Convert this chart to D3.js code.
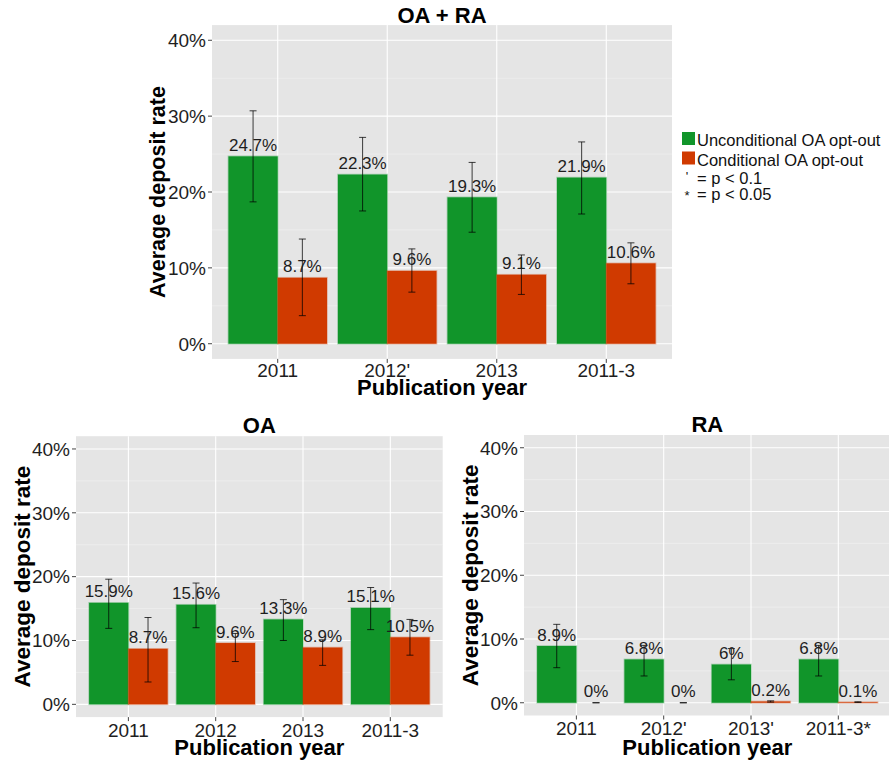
<!DOCTYPE html>
<html>
<head>
<meta charset="utf-8">
<script src="https://cdn.jsdelivr.net/npm/d3@7"></script>
<style>
  html, body { margin: 0; padding: 0; background: #fff; }
  svg { display: block; font-family: "Liberation Sans", Arial, Helvetica, sans-serif; }
</style>
</head>
<body>
<svg id="chart" width="889" height="763"></svg>
<script>
// ---- data (percent) ----
const seriesNames = ["Unconditional OA opt-out", "Conditional OA opt-out"];
const seriesColors = ["#11952a", "#d03a00"];
const yTicks = [0, 10, 20, 30, 40];
const yMinor = [5, 15, 25, 35];

// OA + RA
const catsAll = ["2011", "2012'", "2013", "2011-3"];
const allUncond = [24.7, 22.3, 19.3, 21.9];
const allUncondLow = [18.7, 17.5, 14.7, 17.1];
const allUncondHigh = [30.7, 27.2, 23.9, 26.6];
const allCond = [8.7, 9.6, 9.1, 10.6];
const allCondLow = [3.7, 6.8, 6.5, 7.9];
const allCondHigh = [13.8, 12.5, 11.7, 13.3];

// OA
const catsOA = ["2011", "2012", "2013", "2011-3"];
const oaUncond = [15.9, 15.6, 13.3, 15.1];
const oaUncondLow = [11.9, 12.0, 10.0, 11.7];
const oaUncondHigh = [19.6, 19.0, 16.4, 18.3];
const oaCond = [8.7, 9.6, 8.9, 10.5];
const oaCondLow = [3.5, 6.7, 6.1, 7.7];
const oaCondHigh = [13.6, 11.1, 10.1, 13.3];

// RA
const catsRA = ["2011", "2012'", "2013'", "2011-3*"];
const raUncond = [8.9, 6.8, 6.0, 6.8];
const raUncondLow = [5.5, 4.2, 3.6, 4.2];
const raUncondHigh = [12.3, 9.0, 8.5, 9.0];
const raCond = [0, 0, 0.2, 0.1];
const raCondLow = [0, 0, 0.1, 0.05];
const raCondHigh = [0, 0, 0.3, 0.15];

// significance notes shown under the legend
const noteSymbols = ["'", "*"];
const noteTexts = ["= p < 0.1", "= p < 0.05"];

const svg = d3.select("#chart");
const fmtPct = v => `${+v.toFixed(1)}%`;

function drawPanel(cfg) {
  const g = svg.append("g");
  const x = d3.scalePoint().domain(cfg.cats).range([cfg.left, cfg.right]).padding(0.6);
  const y = d3.scaleLinear().domain([-2, 42]).range([cfg.bottom, cfg.top]);
  const bw = x.step() * 0.45;

  // panel background
  g.append("rect")
    .attr("x", cfg.left).attr("y", cfg.top)
    .attr("width", cfg.right - cfg.left).attr("height", cfg.bottom - cfg.top)
    .attr("fill", "#e5e5e5");

  // minor grid
  g.selectAll(".minor").data(yMinor).join("line")
    .attr("x1", cfg.left).attr("x2", cfg.right)
    .attr("y1", d => y(d)).attr("y2", d => y(d))
    .attr("stroke", "#f2f2f2").attr("stroke-width", 0.6);
  // major grid
  g.selectAll(".majorY").data(yTicks).join("line")
    .attr("x1", cfg.left).attr("x2", cfg.right)
    .attr("y1", d => y(d)).attr("y2", d => y(d))
    .attr("stroke", "#fff").attr("stroke-width", 1.1);
  g.selectAll(".majorX").data(cfg.cats).join("line")
    .attr("x1", d => x(d)).attr("x2", d => x(d))
    .attr("y1", cfg.top).attr("y2", cfg.bottom)
    .attr("stroke", "#fff").attr("stroke-width", 1.1);

  // bars, error bars and value labels
  const series = [
    { vals: cfg.s1, lo: cfg.s1lo, hi: cfg.s1hi, color: seriesColors[0], off: -1 },
    { vals: cfg.s2, lo: cfg.s2lo, hi: cfg.s2hi, color: seriesColors[1], off: 0 }
  ];
  series.forEach(s => {
    const rows = cfg.cats.map((c, i) => ({ c, v: s.vals[i], lo: s.lo[i], hi: s.hi[i] }));
    const bx = d => x(d.c) + s.off * bw;
    g.selectAll(null).data(rows).join("rect")
      .attr("x", bx).attr("width", bw)
      .attr("y", d => y(d.v)).attr("height", d => y(0) - y(d.v))
      .attr("fill", s.color)
      .attr("stroke", s.color).attr("stroke-opacity", 0.3).attr("stroke-width", 1.6);
    const ex = d => bx(d) + bw / 2;
    const eb = g.selectAll(null).data(rows).join("g")
      .attr("stroke", "#000").attr("stroke-opacity", 0.75).attr("stroke-width", 1);
    eb.append("line").attr("x1", ex).attr("x2", ex)
      .attr("y1", d => y(d.lo)).attr("y2", d => y(d.hi));
    eb.append("line").attr("x1", d => ex(d) - 3.5).attr("x2", d => ex(d) + 3.5)
      .attr("y1", d => y(d.lo)).attr("y2", d => y(d.lo));
    eb.append("line").attr("x1", d => ex(d) - 3.5).attr("x2", d => ex(d) + 3.5)
      .attr("y1", d => y(d.hi)).attr("y2", d => y(d.hi));
    g.selectAll(null).data(rows).join("text")
      .attr("x", ex).attr("y", d => y(d.v) - 5.5)
      .attr("text-anchor", "middle")
      .attr("font-size", 17).attr("fill", "#1e1e1e")
      .text(d => fmtPct(d.v));
  });

  // y axis
  g.selectAll(".yt").data(yTicks).join("line")
    .attr("x1", cfg.left - 4).attr("x2", cfg.left)
    .attr("y1", d => y(d)).attr("y2", d => y(d))
    .attr("stroke", "#444").attr("stroke-width", 1);
  g.selectAll(".yl").data(yTicks).join("text")
    .attr("x", cfg.left - 6).attr("y", d => y(d) + 6.8)
    .attr("text-anchor", "end").attr("font-size", 19).attr("fill", "#1e1e1e")
    .text(d => d + "%");
  // x axis
  g.selectAll(".xt").data(cfg.cats).join("line")
    .attr("x1", d => x(d)).attr("x2", d => x(d))
    .attr("y1", cfg.bottom).attr("y2", cfg.bottom + 4)
    .attr("stroke", "#444").attr("stroke-width", 1);
  g.selectAll(".xl").data(cfg.cats).join("text")
    .attr("x", d => x(d)).attr("y", cfg.xTickY)
    .attr("text-anchor", "middle").attr("font-size", 19).attr("fill", "#1e1e1e")
    .text(d => d);

  // titles
  const cx = (cfg.left + cfg.right) / 2;
  g.append("text").attr("x", cx).attr("y", cfg.titleY)
    .attr("text-anchor", "middle").attr("font-size", 22).attr("font-weight", "bold")
    .text(cfg.title);
  g.append("text").attr("x", cx).attr("y", cfg.xTitleY)
    .attr("text-anchor", "middle").attr("font-size", 22).attr("font-weight", "bold")
    .text("Publication year");
  g.append("text")
    .attr("transform", `translate(${cfg.yTitleX},${(cfg.top + cfg.bottom) / 2}) rotate(-90)`)
    .attr("text-anchor", "middle").attr("font-size", cfg.yTitleSize).attr("font-weight", "bold")
    .text("Average deposit rate");
}

drawPanel({
  title: "OA + RA", cats: catsAll,
  s1: allUncond, s1lo: allUncondLow, s1hi: allUncondHigh,
  s2: allCond, s2lo: allCondLow, s2hi: allCondHigh,
  left: 212, right: 672, top: 25.1, bottom: 358.9,
  titleY: 23, xTickY: 376.5, xTitleY: 395, yTitleX: 165, yTitleSize: 21.5
});
drawPanel({
  title: "OA", cats: catsOA,
  s1: oaUncond, s1lo: oaUncondLow, s1hi: oaUncondHigh,
  s2: oaCond, s2lo: oaCondLow, s2hi: oaCondHigh,
  left: 76, right: 442.7, top: 436.2, bottom: 717.1,
  titleY: 433, xTickY: 736.5, xTitleY: 755, yTitleX: 30, yTitleSize: 22.5
});
drawPanel({
  title: "RA", cats: catsRA,
  s1: raUncond, s1lo: raUncondLow, s1hi: raUncondHigh,
  s2: raCond, s2lo: raCondLow, s2hi: raCondHigh,
  left: 524, right: 890.7, top: 435, bottom: 715.5,
  titleY: 432, xTickY: 735, xTitleY: 754.5, yTitleX: 478, yTitleSize: 22.5
});

// legend
const legend = svg.append("g").attr("transform", "translate(682,0)");
seriesNames.forEach((name, i) => {
  legend.append("rect").attr("x", 0).attr("y", 132 + i * 19.5)
    .attr("width", 13).attr("height", 13).attr("fill", seriesColors[i]);
  legend.append("text").attr("x", 15).attr("y", 146 + i * 19.5)
    .attr("font-size", 16.5).attr("fill", "#111").text(name);
});
const noteBase = [184, 200];
noteSymbols.forEach((sym, i) => {
  legend.append("text").attr("x", 5).attr("y", noteBase[i] - (i === 0 ? 3.3 : 0))
    .attr("text-anchor", "middle").attr("font-size", 13).attr("fill", "#111").text(sym);
  legend.append("text").attr("x", 15).attr("y", noteBase[i])
    .attr("font-size", 16.5).attr("fill", "#111").text(noteTexts[i]);
});
</script>
</body>
</html>
